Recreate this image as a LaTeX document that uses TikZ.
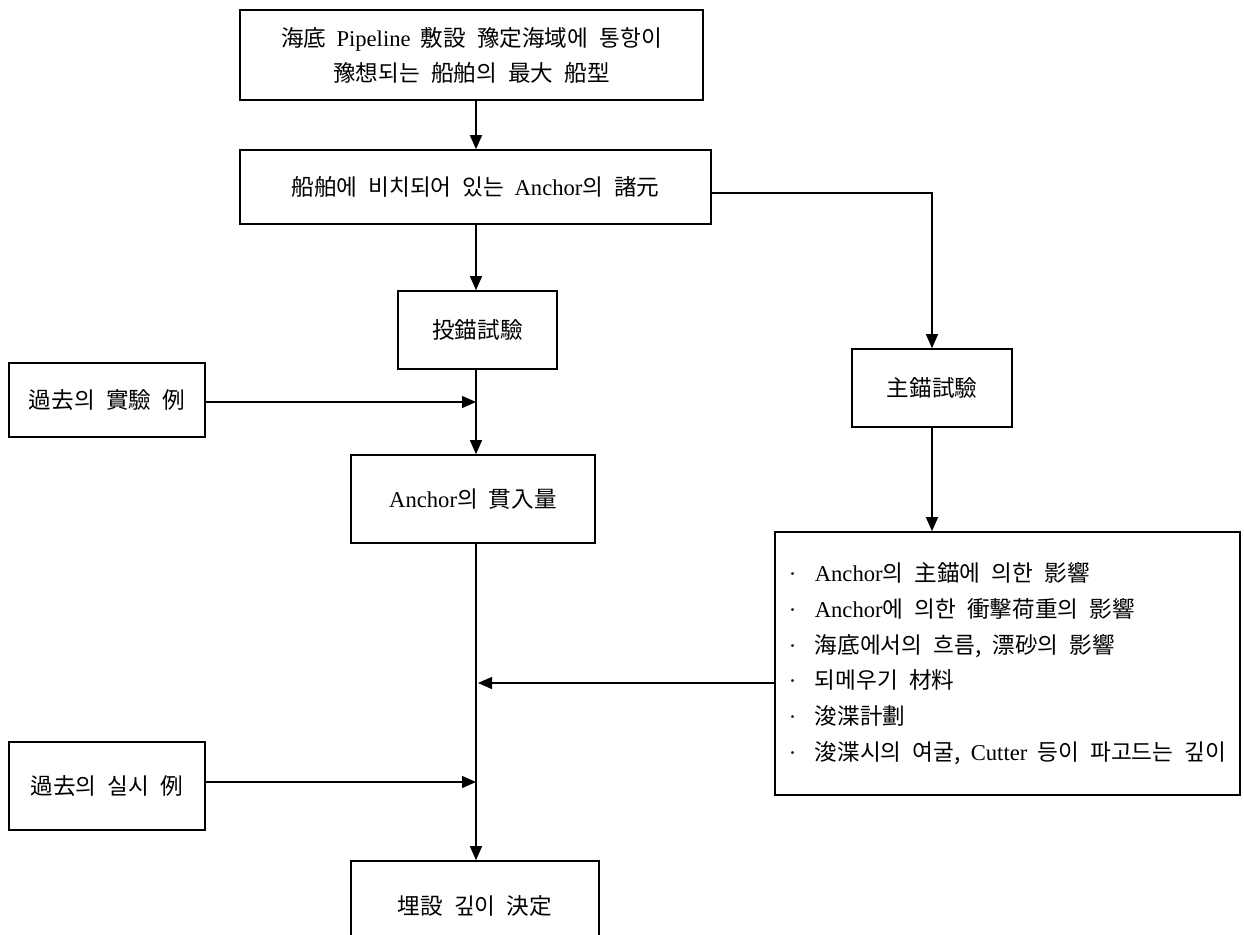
\documentclass[tikz,border=0pt]{standalone}
\usepackage{fontspec}
\setmainfont{Liberation Serif}[WordSpace=1.8]
\newfontfamily\kr{Noto Sans CJK KR}[WordSpace=2.2]
\usetikzlibrary{arrows.meta}
\begin{document}
\begin{tikzpicture}[x=0.5pt,y=-0.5pt,
 box/.style={draw, line width=0.8pt, inner sep=0pt, align=center, font=\fontsize{11.3}{17.5}\selectfont},
 arr/.style={line width=0.6pt, -{Triangle[length=7pt,width=6pt]}},
 ln/.style={line width=0.6pt}]
\useasboundingbox (0,0) rectangle (1244,934);
\coordinate (col) at (476,0);
\node[box, minimum width=231.5pt, minimum height=45pt] (b1) at (471.5,55)
  {{\kr 海底} Pipeline {\kr 敷設 豫定海域에 통항이}\\{\kr 豫想되는 船舶의 最大 船型}};
\node[box, minimum width=235.5pt, minimum height=37pt] (b2) at (475.5,187)
  {{\kr 船舶에 비치되어 있는} Anchor{\kr 의 諸元}};
\node[box, minimum width=79.5pt, minimum height=39pt] (b3) at (477.5,330) {{\kr 投錨試驗}};
\node[box, minimum width=80pt, minimum height=39pt] (b4) at (932,388) {{\kr 主錨試驗}};
\node[box, minimum width=98pt, minimum height=37pt] (b5) at (107,400) {{\kr 過去의 實驗 例}};
\node[box, minimum width=122pt, minimum height=44pt] (b6) at (473,499) {Anchor{\kr 의 貫入量}};
\node[box, minimum width=232.5pt, minimum height=131.5pt, align=left, font=\fontsize{11.3}{17.9}\selectfont] (b7) at (1007.5,663.5)
  {\makebox[13pt][l]{·}Anchor{\kr 의 主錨에 의한 影響}\\
   \makebox[13pt][l]{·}Anchor{\kr 에 의한 衝擊荷重의 影響}\\
   \makebox[13pt][l]{·}{\kr 海底에서의 흐름, 漂砂의 影響}\\
   \makebox[13pt][l]{·}{\kr 되메우기 材料}\\
   \makebox[13pt][l]{·}{\kr 浚渫計劃}\\
   \makebox[13pt][l]{·}{\kr 浚渫시의 여굴,} Cutter {\kr 등이 파고드는 깊이}};
\node[box, minimum width=98pt, minimum height=44pt] (b8) at (107,786) {{\kr 過去의 실시 例}};
\node[box, minimum width=124pt, minimum height=45pt] (b9) at (475,906) {{\kr 埋設 깊이 決定}};
\coordinate (j1) at (476,402);
\coordinate (j2) at (478,683);
\coordinate (j3) at (476,782);
\draw[arr] (b1.south -| col) -- (b2.north -| col);
\draw[arr] (b2.south -| col) -- (b3.north -| col);
\draw[arr] ([yshift=-3pt]b2.east) -| (b4.north);
\draw[arr] (b3.south -| col) -- (b6.north -| col);
\draw[arr] (b5.east |- j1) -- (j1);
\draw[arr] (b4.south) -- (b7.north -| b4.south);
\draw[arr] (b6.south -| col) -- (b9.north -| col);
\draw[arr] (b7.west |- j2) -- (j2);
\draw[arr] (b8.east |- j3) -- (j3);
\end{tikzpicture}
\end{document}
